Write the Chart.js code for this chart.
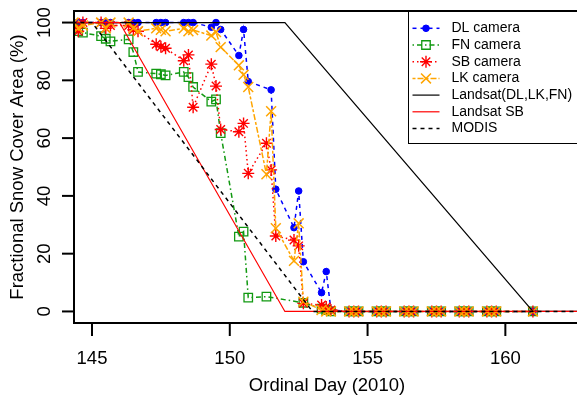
<!DOCTYPE html>
<html>
<head>
<meta charset="utf-8">
<script src="https://cdn.jsdelivr.net/npm/chart.js@4.4.0/dist/chart.umd.min.js"></script>
<style>
  html, body { margin: 0; padding: 0; background: #fff; }
</style>
</head>
<body>
<canvas id="chart" width="577" height="405"></canvas>
<script>
// camera observations, three a day, then the snow-free days
const lateDays = [154.33, 154.5, 154.67, 155.33, 155.5, 155.67, 156.33, 156.5, 156.67,
  157.33, 157.5, 157.67, 158.33, 158.5, 158.67, 159.33, 159.5, 159.67, 161];

const dlDays = [144.33, 144.5, 144.67, 145.33, 145.5, 145.67, 146.33, 146.5, 146.67,
  147.33, 147.5, 147.67, 148.33, 148.5, 148.67, 149.33, 149.5, 149.67,
  150.33, 150.5, 150.67, 151.5, 151.67, 152.33, 152.5, 152.67, 153.33, 153.5, 153.67];
const dlCover = [100, 100, 100, 100, 100, 100, 100, 100, 100,
  100, 100, 100, 100, 100, 100, 98.4, 100, 97.6,
  88.6, 97.6, 79.6, 76.7, 42.3, 29, 41.7, 17.2, 6.5, 13.8, 0.5];
const dlLate = [0, 0, 0, 0, 0, 0, 0, 0, 0, 0, 0, 0, 0, 0, 0, 0, 0, 0, 0];

const fnDays = [144.33, 144.5, 144.67, 145.33, 145.5, 145.67, 146.33, 146.5, 146.67,
  147.33, 147.5, 147.67, 148.33, 148.5, 148.67, 149.33, 149.5, 149.67,
  150.33, 150.5, 150.67, 151.33, 152.67, 153.33, 153.5, 153.67];
const fnCover = [98, 97, 96.5, 95.3, 94.4, 93.5, 94.2, 89.8, 82.9,
  82.3, 82.1, 81.7, 82.9, 81.1, 77.7, 72.6, 73.4, 61.7,
  25.9, 27.6, 4.8, 5.1, 3, 1, 0.5, 0];
const fnLate = [0, 0, 0, 0, 0, 0, 0, 0, 0, 0, 0, 0, 0, 0, 0, 0, 0, 0, 0];

const sbDays = [144.33, 144.5, 144.67, 145.33, 145.5, 145.67, 146.33, 146.5, 146.67,
  147.33, 147.5, 147.67, 148.33, 148.5, 148.67, 149.33, 149.5, 149.67,
  150.33, 150.5, 150.67, 151.33, 151.5, 151.67, 152.33, 152.5, 152.67, 153.33, 153.5, 153.67];
const sbCover = [99, 97, 100, 100, 98, 99, 99, 97.5, 97,
  92.5, 91.6, 91.1, 86.8, 88.8, 70.7, 85.6, 78, 63,
  62.2, 65.1, 47.8, 58.2, 49, 26.1, 24.7, 22.7, 2.8, 2.2, 1.5, 0.5];
const sbLate = [0, 0, 0, 0, 0, 0, 0, 0, 0, 0, 0, 0, 0, 0, 0, 0, 0, 0, 0];

const lkDays = sbDays;
const lkCover = [100, 98, 99, 100, 98, 100, 100, 98, 97,
  98, 97.5, 97, 98, 97, 97.4, 95.5, 96.7, 91.5,
  85.2, 81.9, 77.7, 47.5, 69.3, 28.8, 17.5, 30.5, 3.4, 0.5, 0, 0];
const lkLate = [0, 0, 0, 0, 0, 0, 0, 0, 0, 0, 0, 0, 0, 0, 0, 0, 0, 0, 0];

// satellite estimates
const landsatDays = [144, 152, 161, 163];
const landsatCover = [100, 100, 0, 0];
const landsatSbDays = [144, 146, 152, 163];
const landsatSbCover = [100, 100, 0, 0];
const modisDays = [144, 145, 153, 163];
const modisCover = [100, 100, 0, 0];

const xTicks = [145, 150, 155, 160];
const yTicks = [0, 20, 40, 60, 80, 100];
const xMin = 144.347, xMax = 162.6;
const yMin = -4, yMax = 104;

function pts(days, cover) {
  return days.map((d, i) => ({ x: d, y: cover[i] }));
}

const FONT = '"Liberation Sans", Arial, sans-serif';

const datasets = [
  {
    label: 'DL camera',
    data: pts(dlDays.concat(lateDays), dlCover.concat(dlLate)),
    borderColor: '#0000ff', backgroundColor: '#0000ff',
    borderWidth: 1.5, borderDash: [4, 4],
    pointStyle: 'circle', pointRadius: 3.3, pointBorderWidth: 1,
    order: 7
  },
  {
    label: 'FN camera',
    data: pts(fnDays.concat(lateDays), fnCover.concat(fnLate)),
    borderColor: '#119911', backgroundColor: 'rgba(0,0,0,0)',
    pointBorderColor: '#119911',
    borderWidth: 1.5, borderDash: [1.5, 3, 5, 3],
    pointStyle: 'rect', pointRadius: 6, pointBorderWidth: 1.3,
    order: 6
  },
  {
    label: 'SB camera',
    data: pts(sbDays.concat(lateDays), sbCover.concat(sbLate)),
    borderColor: '#ff0000', backgroundColor: '#ff0000',
    borderWidth: 1.5, borderDash: [1.5, 3],
    pointStyle: 'star', pointRadius: 6, pointBorderWidth: 1.4,
    order: 5
  },
  {
    label: 'LK camera',
    data: pts(lkDays.concat(lateDays), lkCover.concat(lkLate)),
    borderColor: '#ffa500', backgroundColor: '#ffa500',
    borderWidth: 1.5, borderDash: [3, 2, 6, 2],
    pointStyle: 'crossRot', pointRadius: 7, pointBorderWidth: 1.5,
    order: 4
  },
  {
    label: 'Landsat(DL,LK,FN)',
    data: pts(landsatDays, landsatCover),
    borderColor: '#000000', borderWidth: 1.2, pointRadius: 0,
    order: 3
  },
  {
    label: 'Landsat SB',
    data: pts(landsatSbDays, landsatSbCover),
    borderColor: '#ff0000', borderWidth: 1.2, pointRadius: 0,
    order: 2
  },
  {
    label: 'MODIS',
    data: pts(modisDays, modisCover),
    borderColor: '#000000', borderWidth: 1.5, borderDash: [4, 4], pointRadius: 0,
    order: 1
  }
];

// R-like box, axes and legend
const rFrame = {
  id: 'rFrame',
  afterDatasetsDraw(chart) {
    const { ctx, chartArea: a, scales } = chart;
    const x = scales.x, y = scales.y;
    ctx.save();
    ctx.strokeStyle = '#000';
    ctx.lineWidth = 2;
    ctx.beginPath();
    ctx.moveTo(a.right + 5, a.top);
    ctx.lineTo(a.left, a.top);
    ctx.lineTo(a.left, a.bottom);
    ctx.lineTo(a.right + 5, a.bottom);
    ctx.stroke();

    ctx.fillStyle = '#000';
    ctx.font = '18.5px ' + FONT;
    ctx.textAlign = 'center';
    ctx.textBaseline = 'middle';
    xTicks.forEach(t => {
      const px = x.getPixelForValue(t);
      ctx.beginPath();
      ctx.moveTo(px, a.bottom);
      ctx.lineTo(px, a.bottom + 13);
      ctx.stroke();
      ctx.fillText(String(t), px, 359);
    });
    yTicks.forEach(t => {
      const py = y.getPixelForValue(t);
      ctx.beginPath();
      ctx.moveTo(a.left, py);
      ctx.lineTo(a.left - 12, py);
      ctx.stroke();
      ctx.save();
      ctx.translate(45, py);
      ctx.rotate(-Math.PI / 2);
      ctx.fillText(String(t), 0, 0);
      ctx.restore();
    });
    ctx.fillText('Ordinal Day (2010)', (a.left + 580) / 2, 386);
    ctx.save();
    ctx.translate(18, (a.top + a.bottom) / 2);
    ctx.rotate(-Math.PI / 2);
    ctx.fillText('Fractional Snow Cover Area (%)', 0, 0);
    ctx.restore();

    // legend
    const lx = 408, ly = a.top;
    ctx.fillStyle = '#fff';
    ctx.fillRect(lx, ly, 600 - lx, 143 - ly);
    ctx.lineWidth = 1;
    ctx.strokeStyle = '#000';
    ctx.strokeRect(lx + 0.5, ly + 0.5, 600 - lx, 143 - ly);
    ctx.font = '14px ' + FONT;
    ctx.textAlign = 'left';
    chart.data.datasets.forEach((ds, i) => {
      const cy = 28.3 + i * 16.7;
      ctx.save();
      ctx.strokeStyle = ds.borderColor;
      ctx.lineWidth = ds.borderWidth;
      ctx.setLineDash(ds.borderDash || []);
      ctx.beginPath();
      ctx.moveTo(412.5, cy);
      ctx.lineTo(439.5, cy);
      ctx.stroke();
      ctx.setLineDash([]);
      if (ds.pointRadius > 0) {
        ctx.fillStyle = ds.backgroundColor;
        ctx.strokeStyle = ds.pointBorderColor || ds.borderColor;
        ctx.lineWidth = ds.pointBorderWidth;
        Chart.helpers.drawPoint(ctx, {
          pointStyle: ds.pointStyle, radius: ds.pointRadius,
          borderWidth: ds.pointBorderWidth, rotation: 0
        }, 426, cy);
      }
      ctx.restore();
      ctx.fillStyle = '#000';
      ctx.fillText(ds.label, 451.5, cy);
    });
    ctx.restore();
  }
};

new Chart(document.getElementById('chart'), {
  type: 'line',
  data: { datasets },
  options: {
    responsive: false,
    animation: false,
    layout: { autoPadding: false, padding: { left: 74, top: 11, right: 0, bottom: 82 } },
    plugins: { legend: { display: false }, tooltip: { enabled: false } },
    elements: { line: { tension: 0 } },
    scales: {
      x: { type: 'linear', min: xMin, max: xMax, display: false },
      y: { type: 'linear', min: yMin, max: yMax, display: false }
    }
  },
  plugins: [rFrame]
});
</script>
</body>
</html>
